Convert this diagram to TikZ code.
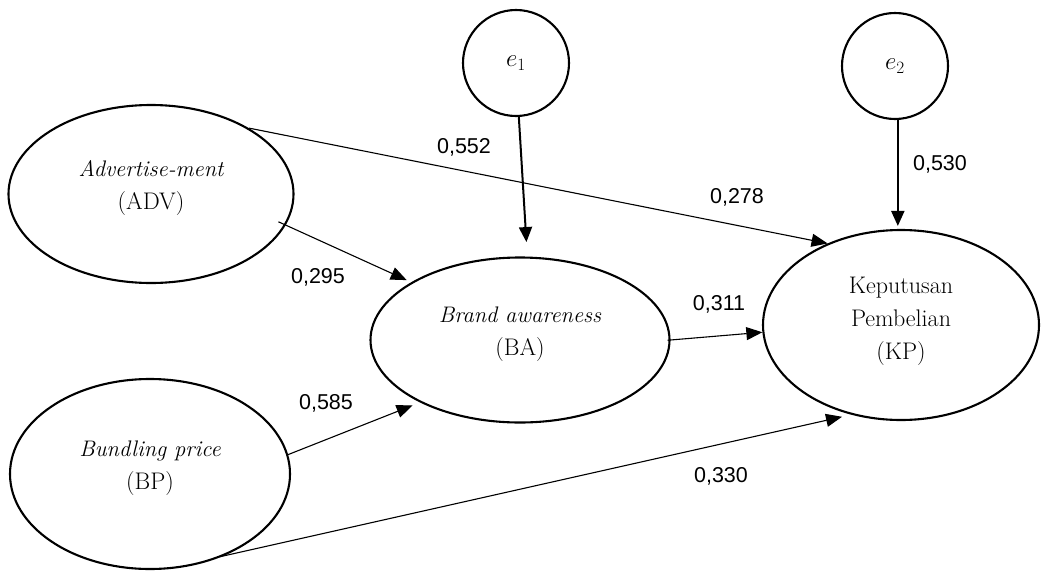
\documentclass[tikz,border=0pt]{standalone}
\usepackage{fontspec}
\newfontfamily\coeffont{Liberation Sans}
\usetikzlibrary{shapes.geometric,arrows.meta}
\newcommand\constructname[1]{{\fontsize{22.5}{33}\selectfont\itshape #1}}
\begin{document}
\begin{tikzpicture}[x=1pt,y=-1pt,
  latent/.style={ellipse,draw,line width=2.1pt,inner sep=0pt},
  lbl/.style={align=center,inner sep=0pt,font=\fontsize{24}{33}\selectfont},
  err/.style={circle,draw,line width=2.1pt,minimum size=106pt,inner sep=0pt,
    font=\fontsize{23}{26}\selectfont},
  effect/.style={line width=1.1pt,-{Triangle[length=16pt,width=13pt]}},
  errpath/.style={line width=2pt,-{Triangle[length=15pt,width=13pt]}},
  coef/.style={inner sep=0pt,font=\coeffont\fontsize{21.5}{24}\selectfont}]
\useasboundingbox (0,0) rectangle (1043,570);

% latent constructs
\node[latent,minimum width=285pt,minimum height=178pt] (adv) at (151,194) {};
\node[latent,minimum width=280pt,minimum height=190pt] (bp)  at (150,474) {};
\node[latent,minimum width=299pt,minimum height=165pt] (ba)  at (520,340) {};
\node[latent,minimum width=276pt,minimum height=190pt] (kp)  at (901,325) {};

\node[lbl] (advtext) at ([yshift=6pt]adv.center) {\constructname{Advertise-ment}\\(ADV)};
\node[lbl] (bptext)  at ([yshift=6pt]bp.center)  {\constructname{Bundling price}\\(BP)};
\node[lbl] (batext)  at ([yshift=6pt]ba.center)  {\constructname{Brand awareness}\\(BA)};
\node[lbl] (kptext)  at ([yshift=4pt]kp.center)  {Keputusan\\Pembelian\\(KP)};

% error terms
\node[err] (e1) at (516,63) {$e_1$};
\node[err] (e2) at (895,66) {$e_2$};

% structural paths
\draw[effect] (adv.34) -- (kp.132);
\draw[effect,shorten <=-8pt,shorten >=5pt] (adv.-13) -- (ba.152);
\draw[effect,shorten <=-3pt] (ba.-0.4) -- (kp.183);
\draw[effect,shorten >=8pt] (bp.8.6) -- (ba.212.5);
\draw[effect,shorten <=-4pt,shorten >=9.5pt] (bp.-48.6) -- (kp.241);

% error paths
\draw[errpath,shorten >=14.5pt] (e1.-87) -- (ba.85);
\draw[errpath,shorten >=3pt] (e2.-87) -- (e2.-87 |- kp.north);

% path coefficients
\node[coef] (c552) at (464,147) {0,552};
\node[coef] (c278) at (737,197) {0,278};
\node[coef] (c530) at (940,164) {0,530};
\node[coef] (c295) at (318,277) {0,295};
\node[coef] (c311) at (719,304) {0,311};
\node[coef] (c585) at (326,403) {0,585};
\node[coef] (c330) at (721,476) {0,330};
\end{tikzpicture}
\end{document}
